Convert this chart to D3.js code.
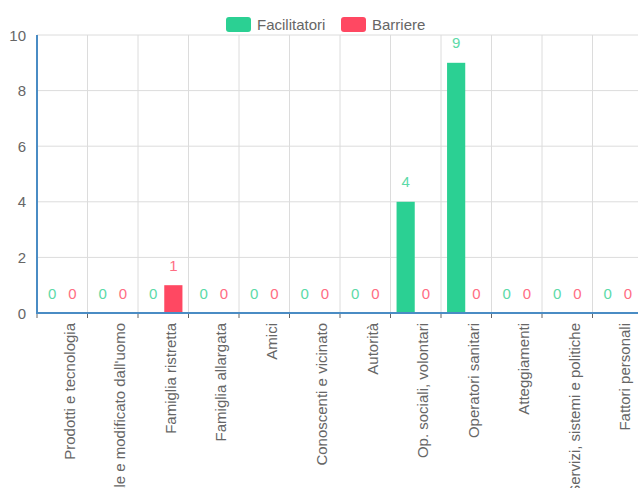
<!DOCTYPE html>
<html>
<head>
<meta charset="utf-8">
<script src="https://cdn.jsdelivr.net/npm/d3@7"></script>
<style>
  html, body { margin: 0; padding: 0; background: #fff; }
  svg { display: block; }
  text { font-family: "Liberation Sans", Arial, sans-serif; }
</style>
</head>
<body>
<svg id="chart" width="638" height="488"></svg>
<script>
const categories = [
  "Prodotti e tecnologia",
  "Ambiente naturale e modificato dall'uomo",
  "Famiglia ristretta",
  "Famiglia allargata",
  "Amici",
  "Conoscenti e vicinato",
  "Autorità",
  "Op. sociali, volontari",
  "Operatori sanitari",
  "Atteggiamenti",
  "Servizi, sistemi e politiche",
  "Fattori personali"
];
const facilitatori = [0, 0, 0, 0, 0, 0, 0, 4, 9, 0, 0, 0];
const barriere     = [0, 0, 1, 0, 0, 0, 0, 0, 0, 0, 0, 0];
const seriesNames = ["Facilitatori", "Barriere"];
const yTicks = [0, 2, 4, 6, 8, 10];

const colors = ["#2bd093", "#ff4862"];
const labelColors = ["#5cdaa8", "#ff6d83"];
const FS = 15;

const svg = d3.select("#chart");
const plotLeft = 37, plotTop = 35, plotBottom = 313;
const catW = 50.5;
const plotRight = plotLeft + categories.length * catW;

const x = d3.scaleBand().domain(categories).range([plotLeft, plotRight]).paddingInner(0).paddingOuter(0);
const y = d3.scaleLinear().domain([0, 10]).range([plotBottom, plotTop]);

// categoryPercentage 0.8, barPercentage 0.9
const inner = x.bandwidth() * 0.8;
const sub = inner / 2;
const barW = sub * 0.9;
function barX(i, s) { return x(categories[i]) + x.bandwidth() * 0.1 + sub * s + (sub - barW) / 2; }

// grid
const g = svg.append("g");
g.selectAll("line.hg").data(yTicks).enter().append("line")
  .attr("x1", plotLeft).attr("x2", 638).attr("y1", d => y(d)).attr("y2", d => y(d))
  .attr("stroke", "#dcdcdc").attr("stroke-width", 1);
const vlines = categories.map(c => x(c)).concat([plotRight]);
g.selectAll("line.vg").data(vlines).enter().append("line")
  .attr("x1", d => d).attr("x2", d => d).attr("y1", plotTop).attr("y2", plotBottom)
  .attr("stroke", "#dcdcdc").attr("stroke-width", 1);

// bars
const series = [facilitatori, barriere];
series.forEach((vals, s) => {
  svg.append("g").selectAll("rect").data(vals).enter().append("rect")
    .attr("x", (d, i) => barX(i, s))
    .attr("width", barW)
    .attr("y", d => y(d))
    .attr("height", d => plotBottom - y(d))
    .attr("fill", colors[s]);
  svg.append("g").selectAll("text").data(vals).enter().append("text")
    .attr("x", (d, i) => barX(i, s) + barW / 2)
    .attr("y", d => y(d) - 20)
    .attr("text-anchor", "middle")
    .attr("dominant-baseline", "central")
    .attr("font-size", FS)
    .attr("fill", labelColors[s])
    .text(d => d);
});

// x axis ticks
svg.append("g").selectAll("line").data(vlines).enter().append("line")
  .attr("x1", d => d).attr("x2", d => d).attr("y1", plotBottom).attr("y2", plotBottom + 5)
  .attr("stroke", "#666").attr("stroke-width", 1);

// axis lines
svg.append("line").attr("x1", plotLeft - 1).attr("x2", 638).attr("y1", plotBottom).attr("y2", plotBottom)
  .attr("stroke", "#4a8cc4").attr("stroke-width", 2);
svg.append("line").attr("x1", plotLeft).attr("x2", plotLeft).attr("y1", plotTop).attr("y2", plotBottom + 1)
  .attr("stroke", "#4a8cc4").attr("stroke-width", 2);

// y tick labels
svg.append("g").selectAll("text").data(yTicks).enter().append("text")
  .attr("x", 26).attr("y", d => y(d))
  .attr("text-anchor", "end").attr("dominant-baseline", "central")
  .attr("font-size", FS).attr("fill", "#666")
  .text(d => d);

// x labels
svg.append("g").selectAll("text").data(categories).enter().append("text")
  .attr("transform", d => `translate(${x(d) + x.bandwidth() / 2 + 7},${plotBottom + 10}) rotate(-90)`)
  .attr("text-anchor", "end").attr("dominant-baseline", "central")
  .attr("font-size", FS).attr("fill", "#666")
  .text(d => d);

// legend
const legend = [
  { name: seriesNames[0], color: colors[0], x: 226 },
  { name: seriesNames[1], color: colors[1], x: 341 }
];
legend.forEach(l => {
  svg.append("rect").attr("x", l.x).attr("y", 17).attr("width", 25).attr("height", 15)
    .attr("rx", 3).attr("fill", l.color);
  svg.append("text").attr("x", l.x + 31).attr("y", 24.5)
    .attr("dominant-baseline", "central").attr("font-size", FS).attr("fill", "#666")
    .text(l.name);
});
</script>
</body>
</html>
